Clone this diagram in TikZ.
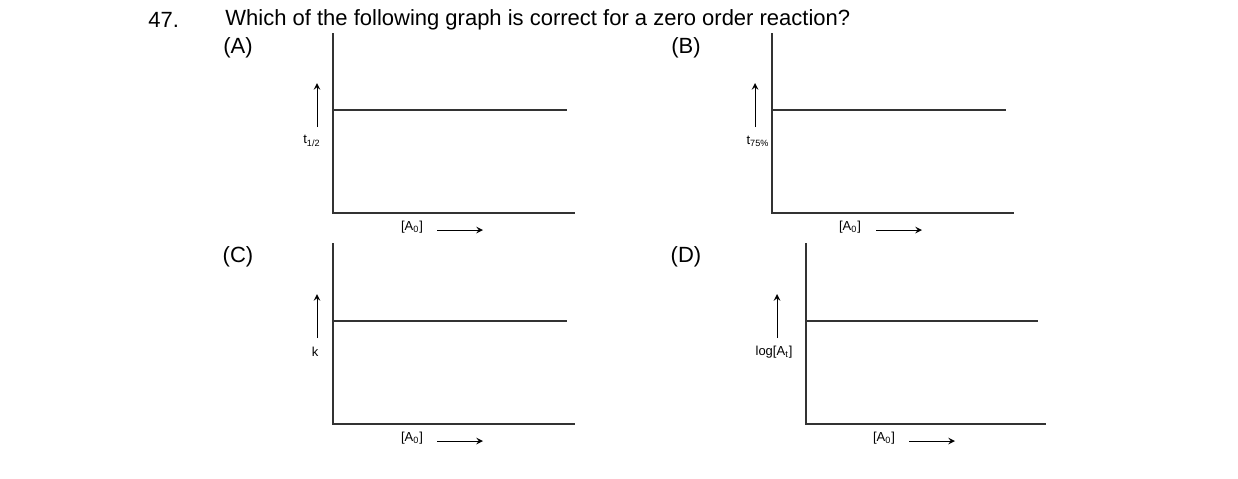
\documentclass[tikz,border=0pt]{standalone}
\usepackage{fontspec}
\setmainfont{Liberation Sans}
\begin{document}
\begin{tikzpicture}[x=0.5pt,y=-0.5pt,
  ax/.style={line width=0.6pt,draw=black!80},
  arr/.style={->,>=stealth,line width=0.5pt},
  big/.style={font=\fontsize{11}{12}\selectfont,inner sep=0},
  sm/.style={font=\fontsize{6.5}{7}\selectfont,inner sep=0}]
\useasboundingbox (0,0) rectangle (1238,478);
\node[big,anchor=west] (num) at (148,20) {47.};
\node[big,anchor=west] (q) at (225,20) {Which of the following graph is correct for a zero order reaction?};
\foreach \n/\lx/\ly/\ax/\ytop/\ybot/\xend/\hy/\hend/\arx/\lab/\labx/\xa/\xb in {
 A/238/48/333/33/213/575/110/567/317/{t\textsubscript{1/2}}/312/412/437,
 B/686/48/772/33/213/1014/110/1006/755/{t\textsubscript{75\%}}/758/850/876,
 C/238/257/333/243/424/575/321/567/317/{k}/315/412/437,
 D/686/257/806/243/424/1046/321/1038/777/{log[A\textsubscript{t}]}/774/884/909}{
 \node[big] (l\n) at (\lx,\ly) {(\n)};
 \coordinate (t\n) at (\ax,\ytop);
 \coordinate (o\n) at (\ax,\ybot);
 \coordinate (e\n) at (\xend,\ybot);
 \draw[ax] (t\n) -- (o\n) -- (e\n);
 \coordinate (h1\n) at (\ax,\hy);
 \coordinate (h2\n) at (\hend,\hy);
 \draw[ax] (h1\n) -- (h2\n);
 \coordinate (a1\n) at (\arx,\hy+17);
 \coordinate (a2\n) at (\arx,\hy-27);
 \draw[arr] (a1\n) -- (a2\n);
 \node[sm] (yl\n) at (\labx,\hy+31) {\lab};
 \node[sm] (xl\n) at (\xa,\ybot+14) {[A\textsubscript{0}]};
 \coordinate (b1\n) at (\xb,\ybot+17);
 \coordinate (b2\n) at (\xb+46,\ybot+17);
 \draw[arr] (b1\n) -- (b2\n);
}
\end{tikzpicture}
\end{document}
